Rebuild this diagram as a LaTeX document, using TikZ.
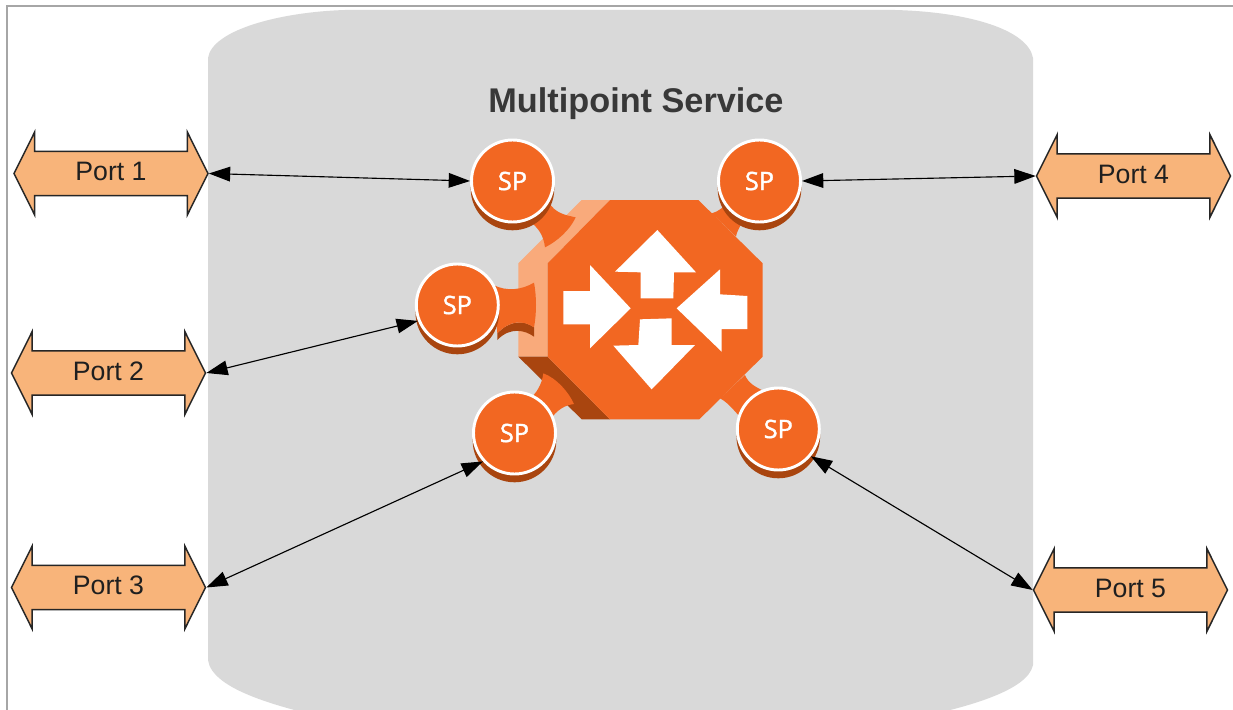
\documentclass[tikz,border=0pt]{standalone}
\usepackage{fontspec}
\setmainfont{Liberation Sans}
\newfontfamily\spfont[FakeBold=1.5]{Open Sans}
\usetikzlibrary{shapes.arrows,arrows.meta,shadows}
\definecolor{hub}{HTML}{F26722}
\definecolor{hublight}{HTML}{F9AA7B}
\definecolor{hubdark}{HTML}{A9450F}
\definecolor{cloudgrey}{HTML}{D9D9D9}
\definecolor{portfill}{HTML}{F8B47A}
\definecolor{framegrey}{HTML}{A6A6A6}
\tikzset{
  portarrow/.style={shape=double arrow,draw=black!85,line width=1.1pt,fill=portfill,
    double arrow head extend=14.5pt,double arrow tip angle=127,double arrow head indent=0pt,
    minimum height=145.5pt,minimum width=60pt,inner xsep=0pt,inner ysep=0pt,
    text height=21.7pt,text depth=10.5pt,align=center,
    font=\fontsize{20pt}{22pt}\selectfont,text=black!88},
  spnode/.style={circle,fill=hub,draw=white,line width=2.2pt,minimum size=61.5pt,inner sep=0pt,
    text=white,font=\spfont\fontsize{19pt}{21pt}\selectfont,
    general shadow={fill=hubdark,shadow xshift=0pt,shadow yshift=-5.5pt,shadow scale=1.02}},
  link/.style={draw=black,line width=0.85pt,{Triangle[length=16pt,width=11pt]}-{Triangle[length=16pt,width=11pt]}},
  hubzoom/.style={shift={(410,130)},x=0.25pt,y=-0.25pt},
}
\begin{document}
\begin{tikzpicture}[x=0.75pt,y=-0.75pt]
\useasboundingbox (0,0) rectangle (1233,710);
\clip (0,0) rectangle (1233,710);
\fill[white] (0,0) rectangle (1233,710);
% frame
\draw[framegrey,line width=0.8pt] (7,712) -- (7,6) -- (1235,6);
% service cloud
\fill[cloudgrey] (208,58) .. controls (212,30) and (280,12) .. (345,10) -- (895,10)
  .. controls (970,12) and (1028,30) .. (1033,58) -- (1033,665)
  .. controls (1028,690) and (970,708) .. (895,722) -- (345,722)
  .. controls (280,708) and (212,690) .. (208,660) -- cycle;
\node (title) at (636,104) {\fontsize{25.7pt}{30pt}\selectfont\bfseries\textcolor{black!78}{Multipoint Service}};
% hub
\begin{scope}[hubzoom]
  \fill[hublight] (515,210) -- (600,210) -- (413,400) -- (413,680) -- (325,680) -- (325,400) -- cycle;
  \fill[hubdark] (325,680) -- (413,680) -- (600,868) -- (515,868) -- cycle;
  \fill[hub] (600,210) -- (865,210) -- (1058,400) -- (1058,680) -- (868,868) -- (600,868) -- (413,680) -- (413,400) -- cycle;
  % stems
  \fill[hub] (415,215) .. controls (435,250) and (465,255) .. (497,262)
     .. controls (480,300) and (440,335) .. (405,352)
     .. controls (400,310) and (380,290) .. (355,270) -- cycle;
  \fill[hubdark] (262,610) .. controls (300,570) and (340,570) .. (372,592)
     -- (372,620) .. controls (345,600) and (300,590) .. (262,630) -- cycle;
  \fill[hub] (250,465) .. controls (290,485) and (335,480) .. (372,458)
     .. controls (380,500) and (380,550) .. (372,592)
     .. controls (340,570) and (300,570) .. (262,610) -- cycle;
  \fill[hub] (355,810) .. controls (380,790) and (395,765) .. (400,730)
     .. controls (440,745) and (475,785) .. (492,822)
     .. controls (465,825) and (440,840) .. (420,870) -- cycle;
  \fill[hub] (905,250) .. controls (925,245) and (940,232) .. (955,215) -- (1000,270)
     .. controls (990,290) and (980,305) .. (978,320) -- cycle;
  \fill[hub] (1005,735) .. controls (1015,760) and (1035,770) .. (1065,785) -- (1010,880)
     .. controls (985,860) and (960,820) .. (930,805) -- cycle;
  % arrows
  \fill[white] (742,300) -- (858,427) -- (792,427) -- (790,505) -- (692,505) -- (692,427) -- (615,425) -- cycle;
  \fill[white] (540,405) -- (662,535) -- (540,655) -- (540,583) -- (460,583) -- (460,483) -- (540,483) -- cycle;
  \fill[white] (800,535) -- (930,418) -- (930,493) -- (1012,498) -- (1012,597) -- (935,597) -- (935,665) -- cycle;
  \fill[white] (725,778) -- (610,647) -- (685,645) -- (690,568) -- (785,565) -- (785,645) -- (855,645) -- cycle;
\end{scope}
% service points
\node[spnode] (sp1) at (512.5,181) {SP};
\node[spnode] (sp2) at (457.3,305) {SP};
\node[spnode] (sp3) at (514.5,433) {SP};
\node[spnode] (sp4) at (759.5,181) {SP};
\node[spnode] (sp5) at (778.3,429) {SP};
% ports
\node[portarrow] (p1) at (111,173.5) {Port 1};
\node[portarrow] (p2) at (108.5,373) {Port 2};
\node[portarrow] (p3) at (108.5,587.5) {Port 3};
\node[portarrow] (p4) at (1133.5,176) {Port 4};
\node[portarrow] (p5) at (1130.5,590) {Port 5};
% links
\draw[link] (p1.east) -- (sp1.west);
\draw[link] (p2.east) -- (sp2.202);
\draw[link] (p3.east) -- (sp3.222);
\draw[link] (p4.west) -- (sp4.east);
\draw[link] (p5.west) -- (sp5.-40);
\end{tikzpicture}
\end{document}
